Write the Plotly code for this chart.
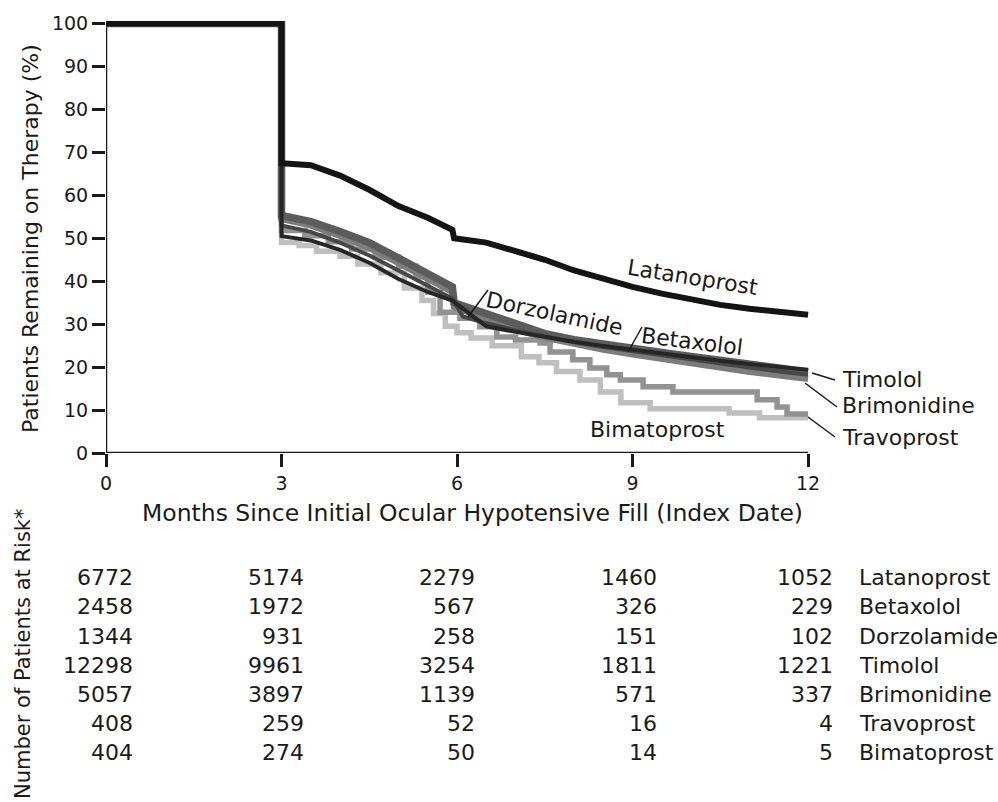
import plotly.graph_objects as go

# ---------------- data ----------------
drugs = ["Latanoprost", "Betaxolol", "Dorzolamide", "Timolol",
         "Brimonidine", "Travoprost", "Bimatoprost"]

# smooth curves (linear between read points, vertical drops via repeated x)
lat_t = [0, 3, 3, 3.5, 4, 4.5, 5, 5.5, 5.92, 5.95, 6.5, 7, 7.5, 8, 8.5, 9, 9.5, 10, 10.5, 11, 11.5, 12]
lat_v = [100, 100, 67.5, 67.0, 64.6, 61.3, 57.5, 54.8, 52, 50, 49, 47, 45, 42.5, 40.5, 38.7, 37.1, 35.7, 34.5, 33.6, 32.8, 32.2]

bet_t = [0, 3, 3, 3.5, 4, 4.5, 5, 5.5, 5.92, 5.95, 6.5, 7, 7.5, 8, 8.5, 9, 9.5, 10, 10.5, 11, 11.5, 12]
bet_v = [100, 100, 55.3, 53.9, 51.6, 49, 45.4, 42, 38.7, 35, 32.3, 29.8, 27.8, 26.4, 25.3, 24.4, 23.4, 22.5, 21.7, 20.7, 19.8, 18.8]

dor_t = [0, 3, 3, 3.5, 4, 4.5, 5, 5.5, 5.92, 6.1, 6.5, 7, 7.5, 8, 8.5, 9, 9.5, 10, 10.5, 11, 11.5, 12]
dor_v = [100, 100, 53, 51.5, 49, 46, 42.5, 39, 36, 31.8, 30.2, 28.6, 27.1, 25.8, 24.7, 23.7, 22.7, 21.8, 20.9, 19.9, 19, 18.2]

tim_t = [0, 3, 3, 3.5, 4, 4.5, 5, 5.5, 5.92, 6.5, 7, 7.5, 8, 8.5, 9, 9.5, 10, 10.5, 11, 11.5, 12]
tim_v = [100, 100, 50.5, 49.5, 47.3, 44.3, 40.5, 37.5, 35.5, 29.5, 28.2, 27, 25.9, 24.9, 24, 23.1, 22.3, 21.5, 20.7, 20, 19.4]

bri_t = [0, 3, 3, 3.5, 4, 4.5, 5, 5.5, 5.92, 5.95, 6.5, 7, 7.5, 8, 8.5, 9, 9.5, 10, 10.5, 11, 11.5, 12]
bri_v = [100, 100, 54.5, 53, 50.6, 47.8, 44.3, 40.8, 37.5, 34, 31.2, 28.8, 26.9, 25.4, 24.1, 23, 21.9, 20.9, 19.9, 18.9, 18.1, 17.3]

# step curves (small groups)
tra_t = [0, 3, 3.4, 3.8, 4.2, 4.6, 5.0, 5.3, 5.5, 5.71, 6.05, 6.39, 6.68, 7.0, 7.42, 7.59, 7.98, 8.27, 8.56, 8.79, 9.18, 9.69, 11.13, 11.47, 11.64, 12]
tra_v = [100, 51.8, 50.6, 49.2, 47.5, 45.6, 43.5, 41, 37.5, 32.8, 31.4, 29.4, 27, 26.3, 25.6, 23.5, 21.7, 19.8, 18.2, 17, 15.4, 14.2, 12.4, 10.7, 9.1, 9.1]

bim_t = [0, 3, 3.3, 3.6, 4.0, 4.3, 4.7, 5.1, 5.4, 5.6, 5.8, 6.0, 6.24, 6.6, 7.1, 7.4, 7.7, 8.1, 8.45, 8.8, 9.3, 10.65, 11.17, 12]
bim_v = [100, 49, 48.3, 47, 45.8, 44, 42, 38.4, 35.5, 32.5, 29.5, 28, 26.8, 25, 22.4, 21, 19, 17, 14.2, 11.7, 10.3, 9.3, 8.2, 8.2]

x_ticks = [0, 3, 6, 9, 12]
y_ticks = [0, 10, 20, 30, 40, 50, 60, 70, 80, 90, 100]

# number of patients at risk at 0, 3, 6, 9, 12 months
risk = {
    "Latanoprost": [6772, 5174, 2279, 1460, 1052],
    "Betaxolol":   [2458, 1972, 567, 326, 229],
    "Dorzolamide": [1344, 931, 258, 151, 102],
    "Timolol":     [12298, 9961, 3254, 1811, 1221],
    "Brimonidine": [5057, 3897, 1139, 571, 337],
    "Travoprost":  [408, 259, 52, 16, 4],
    "Bimatoprost": [404, 274, 50, 14, 5],
}

# ---------------- layout geometry ----------------
W, H = 998, 802
X_MAX, Y_MAX = 12.05, 100.6          # a little headroom so the thick lines are not clipped
L, B = 106, 349
PW = round(702 / 12 * X_MAX)
PH = round(429 / 100 * Y_MAX)
R = W - L - PW
T = H - B - PH
FONT = "DejaVu Sans"
INK = "#1a1a1a"


def pxx(x):
    return (x - L) / PW


def pxy(y):
    return (H - B - y) / PH


fig = go.Figure()


def add(t, v, color, width, shape="linear"):
    fig.add_trace(go.Scatter(x=t, y=v, mode="lines", cliponaxis=False,
                             line=dict(color=color, width=width, shape=shape),
                             hoverinfo="skip", showlegend=False))


add(bim_t, bim_v, "#bfbfbf", 5.5, "hv")
add(tra_t, tra_v, "#929292", 5.5, "hv")
add(bri_t, bri_v, "#7c7c7c", 6.5)
add(bet_t, bet_v, "#5c5c5c", 7.5)
add(dor_t, dor_v, "#474747", 4)
add(tim_t, tim_v, "#262626", 4)
add(lat_t, lat_v, "#141414", 6)

axis_common = dict(showgrid=False, zeroline=False, showline=False,
                   ticks="outside", ticklen=13, tickwidth=2.5,
                   tickcolor=INK, tickfont=dict(family=FONT, size=19, color=INK),
                   fixedrange=True)

fig.update_layout(
    width=W, height=H, autosize=False,
    margin=dict(l=L, r=R, t=T, b=B, pad=0),
    paper_bgcolor="white", plot_bgcolor="white",
    xaxis=dict(range=[0, X_MAX], tickvals=x_ticks, ticktext=[str(v) for v in x_ticks], **axis_common),
    yaxis=dict(range=[0, Y_MAX], tickvals=y_ticks, ticktext=[str(v) for v in y_ticks], **axis_common),
    font=dict(family=FONT, color=INK),
)

# axis lines from 0 to 12 months and 0 to 100 %
fig.add_shape(type="line", xref="x", yref="y", x0=0, x1=12, y0=0, y1=0,
              line=dict(color=INK, width=2.5), layer="above")
fig.add_shape(type="line", xref="x", yref="y", x0=0, x1=0, y0=0, y1=100,
              line=dict(color=INK, width=2.5), layer="below")

ann = []


def text(s, x, y, size=22, xanchor="center", yanchor="middle", angle=0, xref="paper", yref="paper"):
    ann.append(dict(text=s, x=x, y=y, xref=xref, yref=yref, showarrow=False,
                    xanchor=xanchor, yanchor=yanchor, textangle=angle,
                    font=dict(family=FONT, size=size, color=INK)))


# axis titles
text("Months Since Initial Ocular Hypotensive Fill (Index Date)", pxx(472), pxy(513), size=23.5)
text("Patients Remaining on Therapy (%)", pxx(30), pxy(239), size=22, angle=-90)
text("Number of Patients at Risk*", pxx(23), pxy(654), size=21, angle=-90)

# curve labels
text("Latanoprost", pxx(693), pxy(277), angle=9)
text("Dorzolamide", pxx(554), pxy(313), angle=12)
text("Betaxolol", pxx(692), pxy(341), angle=7)
text("Bimatoprost", pxx(657), pxy(429))
text("Timolol", pxx(840), pxy(379), xanchor="left")
text("Brimonidine", pxx(840), pxy(405), xanchor="left")
text("Travoprost", pxx(840), pxy(437), xanchor="left")

# risk table
col_right = [135, 306, 477, 659, 835]
row_y = [577, 606, 636, 665, 694, 723, 752]
for i, d in enumerate(drugs):
    for j, n in enumerate(risk[d]):
        text(str(n), pxx(col_right[j]), pxy(row_y[i]), xanchor="right")
    text(d, pxx(857), pxy(row_y[i]), xanchor="left")

fig.update_layout(annotations=ann)

# leader lines
leaders = [((488, 290), (468, 317)), ((642, 327), (628, 352)),
           ((812, 373), (835, 380)), ((805, 383), (837, 407)), ((808, 417), (835, 437))]
for (x0, y0), (x1, y1) in leaders:
    fig.add_shape(type="line", xref="paper", yref="paper",
                  x0=pxx(x0), y0=pxy(y0), x1=pxx(x1), y1=pxy(y1),
                  line=dict(color=INK, width=1.5))

fig.write_html("out.html")
